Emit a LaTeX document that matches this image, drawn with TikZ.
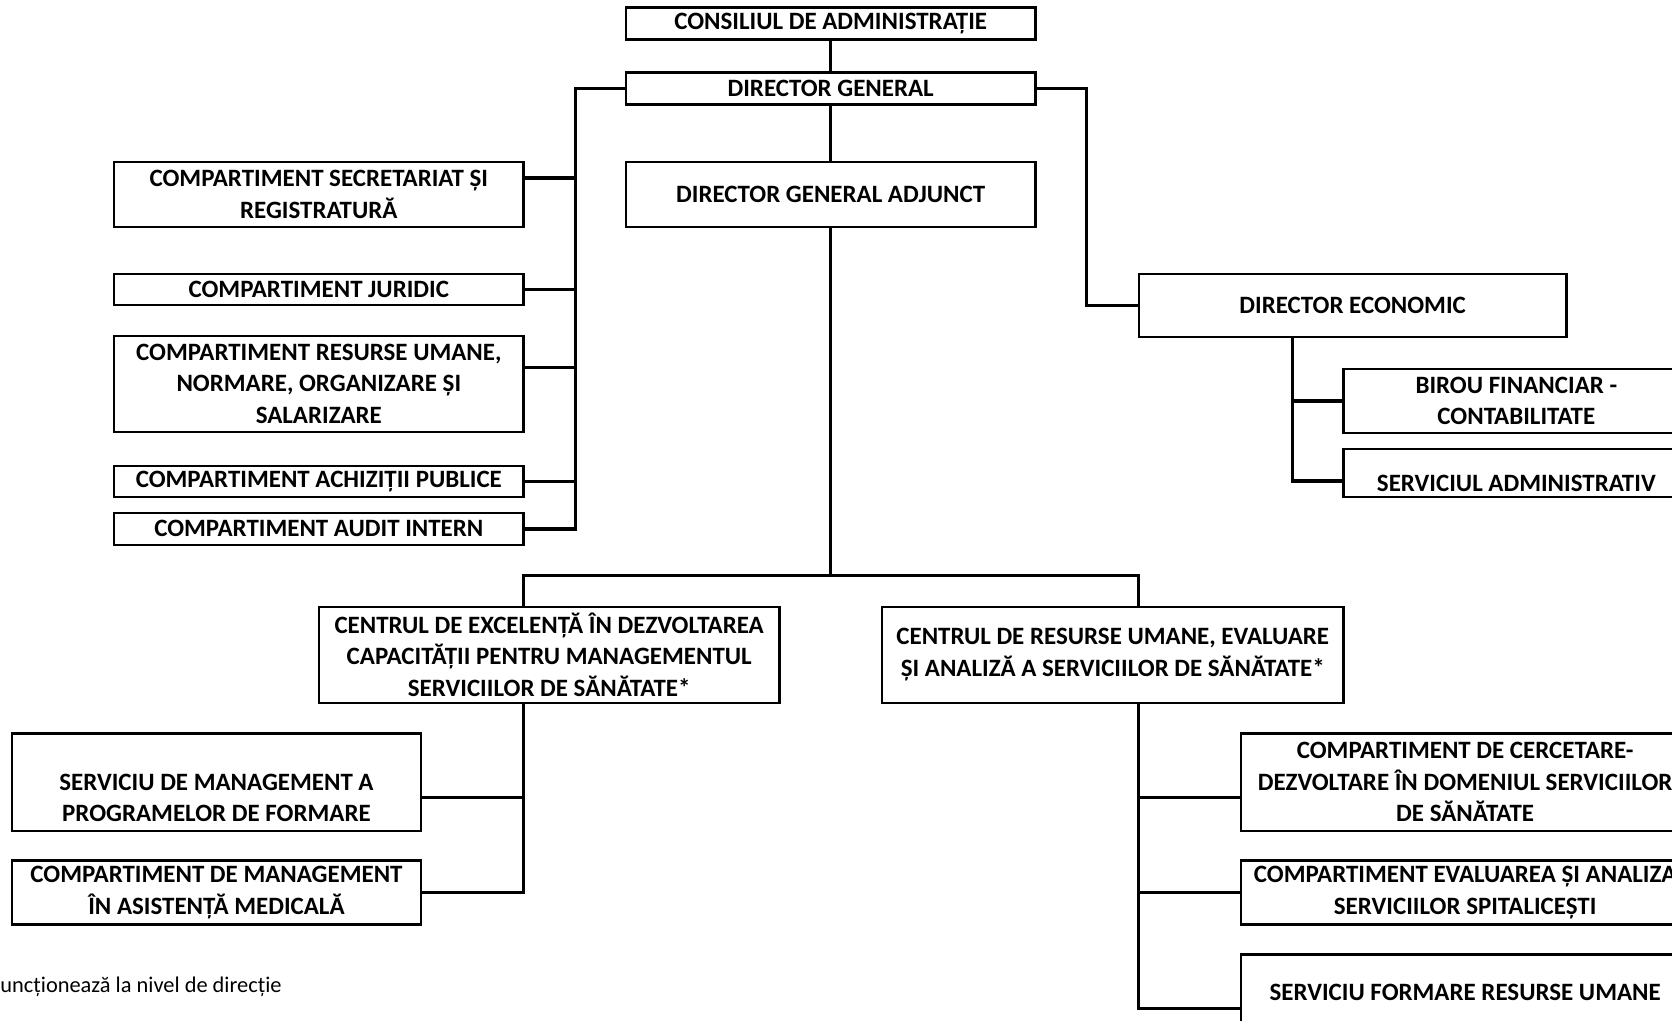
\documentclass[tikz,border=0pt]{standalone}
\usepackage{fontspec}
\setmainfont{Carlito}
\begin{document}
\begin{tikzpicture}[x=0.5pt,y=-0.5pt]
    \tikzstyle{orgbox} = [draw,line width=1.1pt,inner sep=0pt,align=center,font=\bfseries\fontsize{11.7}{14.75}\selectfont,minimum width=192pt]
    \tikzstyle{link} = [line width=1.5pt]
    \useasboundingbox (0,0) rectangle (1568,957);
    \clip (0,0) rectangle (1568,957);
        \node[orgbox,minimum height=15pt] (cons) at (779,22) {CONSILIUL DE ADMINISTRAȚIE};
        \node[orgbox,minimum height=15pt] (dg) at (779,83) {DIRECTOR GENERAL};
        \node[orgbox,minimum height=30.5pt] (dga) at (779,182.5) {DIRECTOR GENERAL ADJUNCT};
        \node[orgbox,minimum height=30.5pt] (sec) at (299,182.5) {COMPARTIMENT SECRETARIAT ȘI\\REGISTRATURĂ};
        \node[orgbox,minimum height=14.5pt] (jur) at (299,271.5) {COMPARTIMENT JURIDIC};
        \node[orgbox,minimum height=45pt] (rum) at (299,360) {COMPARTIMENT RESURSE UMANE,\\NORMARE, ORGANIZARE ȘI\\SALARIZARE};
        \node[orgbox,minimum height=14.5pt] (ach) at (299,451.5) {COMPARTIMENT ACHIZIȚII PUBLICE};
        \node[orgbox,minimum height=15pt] (aud) at (299,496) {COMPARTIMENT AUDIT INTERN};
        \node[orgbox,minimum width=200.5pt,minimum height=29.5pt] (dec) at (1268.5,286.5) {DIRECTOR ECONOMIC};
        \node[orgbox,minimum width=162pt,minimum height=30pt] (bfc) at (1422,376) {BIROU FINANCIAR -\\CONTABILITATE};
        \node[orgbox,minimum width=162pt,text height=19.85pt,text depth=2.65pt] (sad) at (1422,443.5) {SERVICIUL ADMINISTRATIV};
        \node[orgbox,minimum width=216pt,minimum height=45pt] (cex) at (515,614) {CENTRUL DE EXCELENȚĂ ÎN DEZVOLTAREA\\CAPACITĂȚII PENTRU MANAGEMENTUL\\SERVICIILOR DE SĂNĂTATE*};
        \node[orgbox,minimum width=216.5pt,minimum height=45pt] (cru) at (1043.5,614) {CENTRUL DE RESURSE UMANE, EVALUARE\\ȘI ANALIZĂ A SERVICIILOR DE SĂNĂTATE*};
        \node[orgbox,minimum height=45.5pt] (smp) at (203,733.5) {\vphantom{S}\\SERVICIU DE MANAGEMENT A\\PROGRAMELOR DE FORMARE};
        \node[orgbox,minimum height=30pt] (cma) at (203,837) {COMPARTIMENT DE MANAGEMENT\\ÎN ASISTENȚĂ MEDICALĂ};
        \node[orgbox,minimum width=210pt,minimum height=45.5pt] (ccd) at (1374,733.5) {COMPARTIMENT DE CERCETARE-\\DEZVOLTARE ÎN DOMENIUL SERVICIILOR\\DE SĂNĂTATE};
        \node[orgbox,minimum width=210pt,minimum height=30pt] (cea) at (1374,837) {COMPARTIMENT EVALUAREA ȘI ANALIZA\\SERVICIILOR SPITALICEȘTI};
        \node[orgbox,minimum width=210pt,text height=21.65pt,text depth=23.35pt] (sfr) at (1374,940) {SERVICIU FORMARE RESURSE UMANE};
        \node[anchor=west,inner sep=0pt,font=\fontsize{10.5}{13}\selectfont] (note) at (0,925) {uncționează la nivel de direcție};
        \coordinate (lbus) at (540,0);
        \coordinate (rbus) at (1019,0);
        \coordinate (ebus) at (1212,0);
        \coordinate (spl) at (491,540);
        \coordinate (spr) at (1068,540);
        \draw[link] (cons) -- (dg);
        \draw[link] (dg) -- (dga);
        \draw[link] (dg.west) -| (lbus |- aud.east) -- (aud.east);
        \draw[link] (sec.east |- 0,167) -- (lbus |- 0,167);
        \draw[link] (jur.east) -- (lbus |- jur.east);
        \draw[link] (rum.east |- 0,345) -- (lbus |- 0,345);
        \draw[link] (ach.east) -- (lbus |- ach.east);
        \draw[link] (dg.east) -| (rbus |- dec.west) -- (dec.west);
        \draw[link] (ebus |- dec.south) -- (ebus |- 0,451) -- (sad.west |- 0,451);
        \draw[link] (bfc.west) -- (ebus |- bfc.west);
        \draw[link] (dga.south) -- (dga.south |- spl);
        \draw[link] (spl |- cex.north) -- (spl) -- (spr) -- (spr |- cru.north);
        \draw[link] (spl |- cex.south) -- (spl |- cma.east) -- (cma.east);
        \draw[link] (smp.east |- 0,748) -- (spl |- 0,748);
        \draw[link] (spr |- cru.south) -- (spr |- 0,946) -- (sfr.west |- 0,946);
        \draw[link] (ccd.west |- 0,748) -- (spr |- 0,748);
        \draw[link] (cea.west) -- (spr |- cea.west);
    \end{tikzpicture}
\end{document}
